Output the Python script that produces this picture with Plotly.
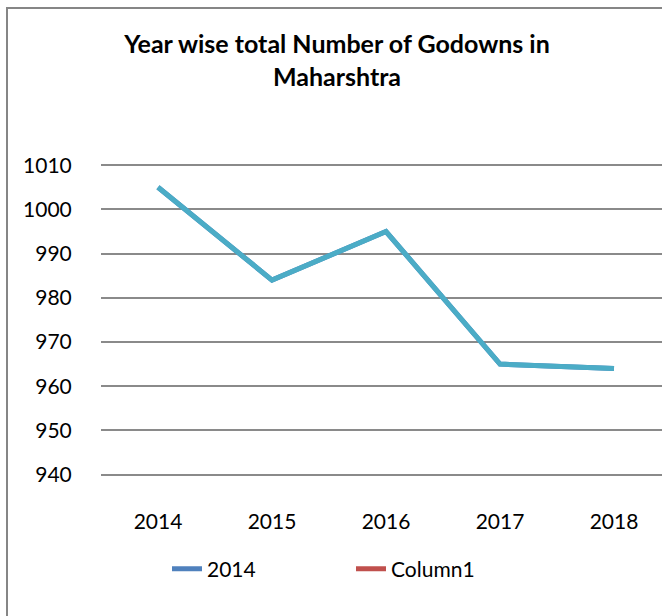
import plotly.graph_objects as go

years = ["2014", "2015", "2016", "2017", "2018"]
godowns = [1005, 984, 995, 965, 964]
column1 = [None, None, None, None, None]
y_ticks = [940, 950, 960, 970, 980, 990, 1000, 1010]

W, H = 662, 616
L, R, T, B = 101, 0, 163, 137
pw = W - L - R
ph = H - T - B

fig = go.Figure()
x_idx = list(range(len(years)))
fig.add_trace(go.Scatter(x=x_idx, y=godowns, mode="lines", name="2014",
                         line=dict(color="#4F81BD", width=5)))
fig.add_trace(go.Scatter(x=x_idx, y=column1, mode="lines", name="Column1",
                         line=dict(color="#C0504D", width=5)))
fig.add_trace(go.Scatter(x=x_idx, y=godowns, mode="lines", name="Series3",
                         showlegend=False,
                         line=dict(color="#4BACC6", width=5)))

spacing = 114.0
fig.update_layout(
    width=W, height=H,
    margin=dict(l=L, r=R, t=T, b=B, autoexpand=False),
    paper_bgcolor="white", plot_bgcolor="white",
    font=dict(family="Lato", size=21, color="black"),
    title=dict(text="<b>Year wise total Number of Godowns in<br>Maharshtra</b>",
               x=337 / W, xanchor="center", y=1 - 53 / H, yanchor="middle",
               font=dict(family="Lato", size=25, color="black")),
    xaxis=dict(range=[-0.5, -0.5 + pw / spacing], tickmode="array",
               tickvals=x_idx, ticktext=years, showgrid=False, zeroline=False,
               showline=False, ticks="", tickfont=dict(size=21),
               ticklabelstandoff=28, automargin=False),
    yaxis=dict(range=[939.0, 1010.5], tickmode="array", tickvals=y_ticks,
               showgrid=True, gridcolor="#8a8a8a", gridwidth=1.5,
               zeroline=False, showline=False, ticks="outside", ticklen=24,
               tickcolor="rgba(0,0,0,0)", automargin=False,
               tickfont=dict(size=21)),
    legend=dict(orientation="h", x=(167 - L) / pw, xanchor="left",
                y=(ph - (569 - T)) / ph, yanchor="middle",
                font=dict(size=21), entrywidth=139, entrywidthmode="pixels"),
    showlegend=True,
)

# chart outer border (Excel chart area frame)
fig.add_shape(type="rect", xref="paper", yref="paper",
              x0=(7 - L) / pw, x1=(W + 20 - L) / pw,
              y0=(ph - (H + 20 - T)) / ph, y1=(ph - (8 - T)) / ph,
              line=dict(color="#868686", width=2), fillcolor="rgba(0,0,0,0)",
              layer="below")

fig.write_html("out.html")
